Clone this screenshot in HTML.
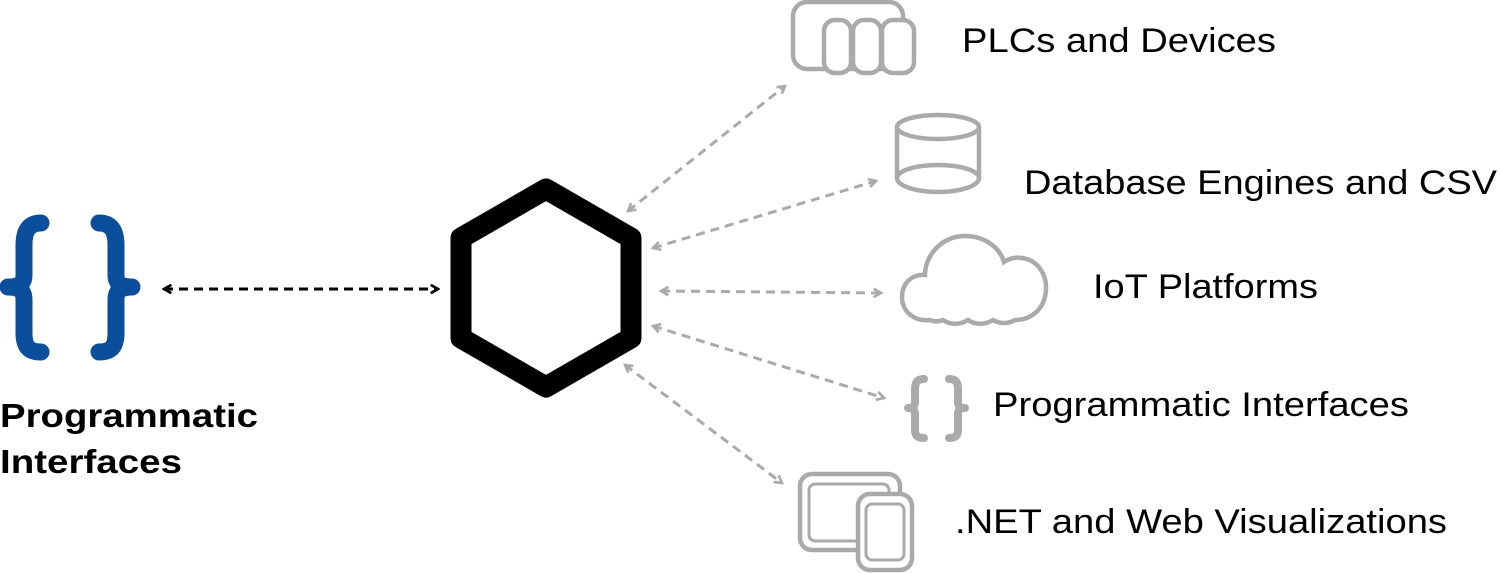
<!DOCTYPE html>
<html><head><meta charset="utf-8"><style>
html,body{margin:0;padding:0;background:#fff;}
svg{display:block;}
text{font-family:"Liberation Sans",Arial,sans-serif;}
</style></head><body>
<svg width="1500" height="573" viewBox="0 0 1500 573" xmlns="http://www.w3.org/2000/svg">
<defs>
<marker id="ag" viewBox="0 0 10 10" refX="8" refY="5" markerWidth="3.5" markerHeight="3.5" orient="auto-start-reverse"><path d="M1,1 L8,5 L1,9" fill="none" stroke="#aaa" stroke-width="2.5"/></marker>
<marker id="ab" viewBox="0 0 10 10" refX="8" refY="5" markerWidth="3.5" markerHeight="3.5" orient="auto-start-reverse"><path d="M1,1 L8,5 L1,9" fill="none" stroke="#000" stroke-width="2.5"/></marker>
</defs>
<g fill="none" stroke="#0b4f9c" stroke-width="17" stroke-linecap="round" stroke-linejoin="round">
<path d="M41,223 C28,223 24,232 24,245 L24,275 C24,283 20,287 8,287 C20,287 24,291 24,300 L24,333 C24,346 28,352 41,352"/>
<path d="M99,223 C112,223 116,232 116,245 L116,275 C116,283 120,287 132,287 C120,287 116,291 116,300 L116,333 C116,346 112,352 99,352"/>
</g>
<text x="0" y="427" font-size="33" font-weight="bold" textLength="258" lengthAdjust="spacingAndGlyphs">Programmatic</text>
<text x="0" y="473" font-size="33" font-weight="bold" textLength="182" lengthAdjust="spacingAndGlyphs">Interfaces</text>
<line x1="164" y1="289" x2="438" y2="289" stroke="#000" stroke-width="3" stroke-dasharray="9,6" marker-start="url(#ab)" marker-end="url(#ab)"/>
<polygon points="546,189 631,238 631,338 546,387 461,338 461,238" fill="none" stroke="#000" stroke-width="21" stroke-linejoin="round"/>
<g stroke="#aaa" stroke-width="3" stroke-dasharray="9,6" fill="none" marker-start="url(#ag)" marker-end="url(#ag)">
<line x1="628" y1="211" x2="785" y2="86"/>
<line x1="653" y1="248" x2="876" y2="181"/>
<line x1="661" y1="291" x2="881" y2="293"/>
<line x1="653" y1="326" x2="884" y2="398"/>
<line x1="625" y1="365" x2="782" y2="483"/>
</g>
<g fill="#fff" stroke="#aaa" stroke-width="4.5">
<rect x="793" y="2" width="110" height="67" rx="14"/>
<rect x="824" y="20" width="27" height="53" rx="11"/>
<rect x="853" y="20" width="28" height="53" rx="11"/>
<rect x="882" y="20" width="32" height="53" rx="11"/>
<path d="M897,127 L897,178 A41,14 0 0 0 979,178 L979,127"/>
<ellipse cx="938" cy="127" rx="41" ry="12"/>
<path d="M897,178 A41,13 0 0 1 979,178" fill="none"/>
<path d="M930,320 C915,322 902,312 902,297 C902,283 912,274 925,275 C925,255 942,236 965,236 C985,236 1000,248 1004,262 C1010,258 1016,257 1022,258 C1038,260 1047,275 1046,290 C1045,308 1032,320 1015,320 C1008,324 1000,324 993,320 C985,325 975,325 968,320 C960,325 950,325 943,320 C938,322 934,322 930,320 Z"/>
<rect x="800" y="474" width="100" height="76" rx="12"/>
<rect x="809" y="484" width="80" height="57" rx="6" stroke-width="3"/>
<rect x="858" y="494" width="54" height="76" rx="12"/>
<rect x="866" y="504" width="38" height="56" rx="6" stroke-width="3"/>
</g>
<g fill="none" stroke="#aaa" stroke-width="8" stroke-linecap="round" stroke-linejoin="round">
<path d="M924,379 C917,379 915,383 915,389 L915,402 C915,406 913,408 908,408 C913,408 915,410 915,414 L915,430 C915,435 917,438 924,438"/>
<path d="M949,379 C956,379 958,383 958,389 L958,402 C958,406 960,408 965,408 C960,408 958,410 958,414 L958,430 C958,435 956,438 949,438"/>
</g>
<g font-size="34" fill="#000">
<text x="962" y="52" textLength="314" lengthAdjust="spacingAndGlyphs">PLCs and Devices</text>
<text x="1024" y="194" textLength="473" lengthAdjust="spacingAndGlyphs">Database Engines and CSV</text>
<text x="1093" y="298" textLength="225" lengthAdjust="spacingAndGlyphs">IoT Platforms</text>
<text x="993" y="416" textLength="416" lengthAdjust="spacingAndGlyphs">Programmatic Interfaces</text>
<text x="955" y="533" textLength="492" lengthAdjust="spacingAndGlyphs">.NET and Web Visualizations</text>
</g>
</svg>
</body></html>
